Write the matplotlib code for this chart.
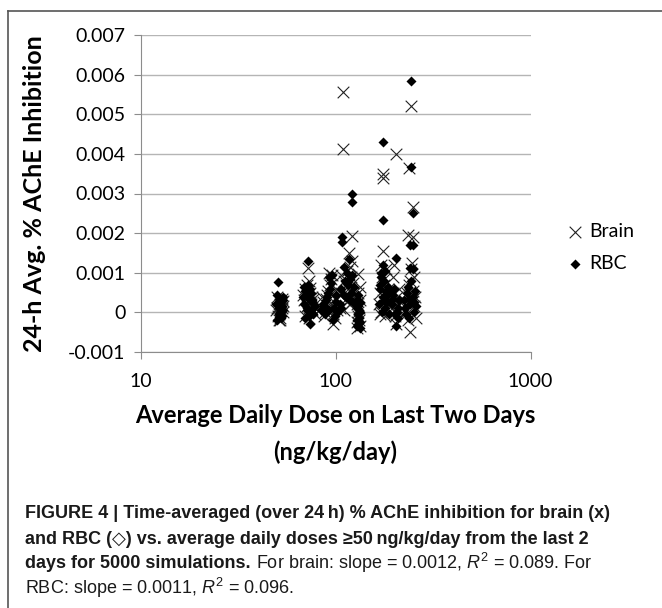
import numpy as np
import matplotlib
matplotlib.use("Agg")
import matplotlib.pyplot as plt
from matplotlib.lines import Line2D

# values; inhibition in units of 0.001
brain_dose = [50, 51, 52, 53, 54, 50.5, 51.5, 52.5, 53.5, 49.5, 51, 52, 53, 50, 54, 52,
              68, 69, 70, 71, 72, 73, 74, 75, 76, 77, 78, 70, 72, 74, 76, 71, 73, 75, 72, 74,
              84, 86, 88, 90, 92, 94, 96, 97, 98, 100, 102, 87, 91, 95, 99, 89, 93, 101, 85, 97,
              109, 109, 105, 107, 110, 112, 114, 116, 117, 118, 120, 121, 122, 124, 106, 111, 113, 119, 115, 123,
              128, 129, 130, 131, 132, 133, 134, 130, 128, 132, 131, 133,
              166, 168, 170, 172, 174, 175, 175, 176, 178, 180, 182, 184, 186, 188, 171, 177, 183, 169,
              192, 195, 198, 200, 203, 205, 208, 210, 212, 196, 201, 207,
              225, 228, 232, 235, 238, 240, 242, 245, 247, 248, 250, 252, 255, 258, 230, 237, 244, 249, 253, 236, 241, 246]
brain_inh = [0.38, 0.30, 0.20, 0.10, 0.00, -0.10, -0.20, 0.25, 0.15, 0.05, -0.05, -0.15, 0.35, 0.12, 0.28, -0.18,
             0.45, 0.30, 0.60, 0.15, 1.12, 0.80, 0.50, 0.20, 0.05, 0.35, -0.05, -0.10, 0.00, 0.25, 0.40, 0.70, -0.15, 0.10, 0.55, 0.62,
             0.10, 0.25, 0.00, 0.45, 1.00, 0.70, 0.95, -0.30, 0.15, 0.30, 0.05, -0.10, 0.55, 0.85, -0.15, 0.35, 0.20, 0.60, 0.40, -0.05,
             5.57, 4.12, 0.10, 0.50, 0.80, 0.30, 1.05, 0.60, 1.50, 0.20, 0.90, 1.30, 1.93, 0.40, 0.95, 0.05, 0.70, 1.15, 0.25, 0.75,
             -0.40, -0.25, -0.10, 0.96, 0.10, 0.30, -0.35, 0.50, 0.20, -0.20, 0.00, 0.65,
             0.20, 0.50, 0.00, 0.90, 0.30, 3.50, 3.40, 1.55, 0.70, -0.10, 1.10, 0.40, 0.60, 0.15, 1.20, 0.85, 0.05, -0.05,
             0.30, 0.10, 0.50, 1.20, 4.00, -0.30, 0.20, 0.00, 0.60, 0.90, -0.10, 0.40,
             0.30, 0.00, 0.50, 1.95, 3.65, -0.50, 0.20, 5.20, 1.25, 2.65, 1.90, 0.90, 0.40, -0.15, 0.10, 0.70, 1.10, 0.55, 0.15, -0.20, 0.80, 0.35]

rbc_dose = [50.5, 50, 51, 52, 53, 54, 51.5, 52.5, 53.5, 49.5, 51, 52, 53, 50, 54, 52, 51,
            72, 74, 68, 69, 70, 71, 72, 73, 75, 76, 77, 78, 70, 72, 74, 76, 71, 73, 75, 69, 77,
            84, 86, 88, 90, 92, 94, 96, 98, 100, 102, 87, 91, 95, 99, 89, 93, 97, 101,
            108, 108, 121, 121, 117, 105, 107, 110, 112, 113, 114, 116, 118, 119, 120, 122, 124, 106, 111, 115, 123,
            128, 129, 130, 131, 132, 133, 134, 130, 128, 132, 131, 133, 129, 134,
            175, 176, 166, 168, 170, 172, 174, 176, 178, 180, 182, 184, 186, 188, 171, 177, 183, 169, 179,
            204, 204, 192, 195, 198, 200, 206, 208, 210, 212, 196, 202,
            245, 245, 248, 240, 248, 240, 248, 225, 228, 232, 235, 238, 242, 250, 252, 255, 258, 230, 237, 244, 253]
rbc_inh = [0.76, 0.45, 0.35, 0.25, 0.15, 0.05, -0.05, -0.15, 0.30, 0.20, 0.10, 0.00, -0.10, -0.20, 0.40, 0.18, -0.12,
           1.30, -0.30, 0.40, 0.20, 0.55, 0.10, 0.70, 0.35, 0.00, 0.25, -0.05, 0.15, -0.15, 0.45, 0.60, 0.30, 0.05, -0.10, 0.50, 0.65, 0.10,
           0.05, 0.20, -0.05, 0.40, 0.90, 0.60, 0.95, 0.10, 0.25, 0.00, 0.15, 0.50, 0.75, -0.10, 0.30, 0.05, -0.20, 0.45,
           1.90, 1.78, 3.00, 2.78, 1.35, 0.20, 0.60, 1.15, 0.80, 0.40, 1.00, 0.70, 0.30, 0.85, 0.50, 0.95, 0.65, 0.10, 0.45, 0.75, 0.25,
           -0.35, -0.20, -0.05, 0.45, 0.05, 0.25, -0.40, 0.15, 0.30, -0.15, -0.30, 0.00, 0.10, -0.25,
           4.31, 2.34, 0.20, 0.60, 1.00, 0.00, 1.20, 0.40, 0.80, 0.10, 0.55, 0.25, 0.65, -0.05, 0.90, 0.30, 0.45, 0.70, 1.05,
           1.38, -0.35, 0.50, 0.20, 0.35, 0.60, 0.00, -0.15, 0.10, 0.30, 0.45, -0.05,
           5.85, 3.66, 2.50, 1.70, 1.70, 1.13, 1.10, 0.30, 0.10, 0.50, 0.65, -0.15, 0.20, 0.40, 0.00, 0.55, 0.15, -0.05, 0.35, 0.80, 0.25]

y_ticks = [-0.001, 0, 0.001, 0.002, 0.003, 0.004, 0.005, 0.006, 0.007]
y_labels = ["-0.001", "0", "0.001", "0.002", "0.003", "0.004", "0.005", "0.006", "0.007"]
x_ticks = [10, 100, 1000]
x_labels = ["10", "100", "1000"]

W, H = 662, 608
chart_font = ["Lato", "DejaVu Sans"]
cap_font = ["Liberation Sans", "DejaVu Sans"]
plt.rcParams["mathtext.fontset"] = "custom"
plt.rcParams["mathtext.it"] = "Liberation Sans:italic"
plt.rcParams["mathtext.rm"] = "Liberation Sans"

fig = plt.figure(figsize=(W / 100, H / 100), dpi=100)
ax = fig.add_axes([140.6 / W, 1 - 352 / H, 390 / W, 317 / H])

ax.scatter(brain_dose, np.array(brain_inh) * 1e-3, marker="x", s=70, c="#222222",
           linewidths=0.8, label="Brain", zorder=3)
ax.scatter(rbc_dose, np.array(rbc_inh) * 1e-3, marker="D", s=26, c="black",
           linewidths=0, label="RBC", zorder=4)

ax.set_xscale("log")
ax.set_xlim(10, 1000)
ax.set_ylim(-0.001, 0.007)
ax.set_yticks(y_ticks)
ax.set_yticklabels(y_labels, family=chart_font, fontsize=14)
ax.set_xticks(x_ticks)
ax.set_xticklabels(x_labels, family=chart_font, fontsize=14)
ax.xaxis.set_minor_locator(matplotlib.ticker.NullLocator())
ax.grid(axis="y", color="#b5b5b5", linewidth=1.0)
ax.set_axisbelow(True)
for s in ["top", "right"]:
    ax.spines[s].set_visible(False)
for s in ["left", "bottom"]:
    ax.spines[s].set_color("#8c8c8c")
ax.tick_params(axis="both", color="#8c8c8c", length=5, pad=6)
ax.tick_params(axis="x", pad=10)

ax.set_ylabel("24-h Avg. % AChE Inhibition", family=chart_font, fontsize=18,
              fontweight="bold", labelpad=16)
ax.set_xlabel("Average Daily Dose on Last Two Days\n(ng/kg/day)", family=chart_font,
              fontsize=17, fontweight="bold", labelpad=10, linespacing=1.7)

leg = ax.legend(loc="center left", bbox_to_anchor=(1.04, 0.33), frameon=False,
                prop={"family": chart_font, "size": 14}, handletextpad=0.1,
                handlelength=1.2, labelspacing=0.75)

# figure border
fig.add_artist(Line2D([8 / W, 8 / W], [0, 1 - 11 / H], color="#555555", lw=1.2))
fig.add_artist(Line2D([8 / W, 1], [1 - 11 / H, 1 - 11 / H], color="#555555", lw=1.2))

# caption
renderer = fig.canvas.get_renderer()
cap_size = 13
line_y = [513, 539, 563, 588]
parts = [
    [("FIGURE 4 | Time-averaged (over 24\u2009h) % AChE inhibition for brain (x)", "bold")],
    [("and RBC (\u25c7) vs. average daily doses \u226550\u2009ng/kg/day from the last 2", "bold")],
    [("days for 5000 simulations.", "bold"),
     (" For brain: slope = 0.0012, $\\mathit{R}^2$ = 0.089. For", "normal")],
    [("RBC: slope = 0.0011, $\\mathit{R}^2$ = 0.096.", "normal")],
]
for y, segs in zip(line_y, parts):
    x = 25
    for txt, wt in segs:
        t = fig.text(x / W, 1 - y / H, txt, family=cap_font, fontsize=cap_size,
                     fontweight=wt, va="center", ha="left", color="#1a1a1a")
        bb = t.get_window_extent(renderer)
        x = bb.x1

fig.savefig("out.png", dpi=100)
